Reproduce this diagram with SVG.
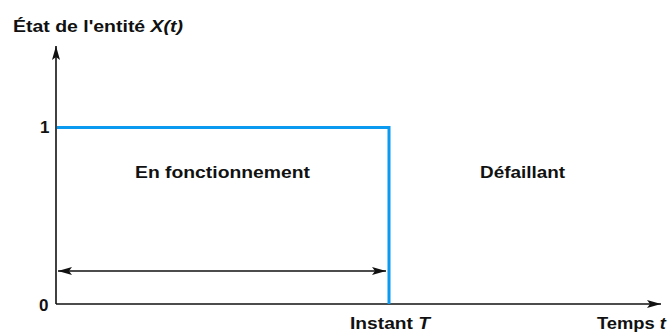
<svg xmlns="http://www.w3.org/2000/svg" width="670" height="334" viewBox="0 0 670 334">
<style>
text{font-family:"Liberation Sans",Arial,sans-serif;font-weight:bold;font-size:17px;fill:#111}
.ax{stroke:#111;stroke-width:1.6;fill:none}
.st{stroke:#0a9af0;stroke-width:3;fill:none}
</style>
<defs>
<marker id="ah" viewBox="0 0 10 10" refX="10" refY="5" markerWidth="10" markerHeight="10" markerUnits="userSpaceOnUse" orient="auto-start-reverse">
<path d="M0,1 L10,5 L0,9 L2,5 Z" fill="#111"/>
</marker>
<marker id="ah2" viewBox="0 0 14 10" refX="14" refY="5" markerWidth="14" markerHeight="10" markerUnits="userSpaceOnUse" orient="auto-start-reverse">
<path d="M0,1 L14,5 L0,9 L3,5 Z" fill="#111"/>
</marker>
</defs>
<g id="connectors">
<path class="ax" d="M56,304 L56,46" marker-end="url(#ah2)"/>
<path class="ax" d="M56,304 L661,304" marker-end="url(#ah2)"/>
<path class="ax" d="M58,271 L386,271" marker-start="url(#ah2)" marker-end="url(#ah2)"/>
</g>
<g id="state">
<path class="st" d="M57,127.5 L389,127.5 L389,304"/>
</g>
<g id="labels">
<text x="13" y="32" textLength="170" lengthAdjust="spacingAndGlyphs">État de l'entité <tspan font-style="italic">X(t)</tspan></text>
<text x="40" y="133">1</text>
<text x="39" y="311">0</text>
<text x="135" y="178" textLength="175" lengthAdjust="spacingAndGlyphs">En fonctionnement</text>
<text x="480" y="178" textLength="85" lengthAdjust="spacingAndGlyphs">Défaillant</text>
<text x="350" y="329" textLength="80" lengthAdjust="spacingAndGlyphs">Instant <tspan font-style="italic">T</tspan></text>
<text x="597" y="329" textLength="69" lengthAdjust="spacingAndGlyphs">Temps <tspan font-style="italic">t</tspan></text>
</g>
</svg>
